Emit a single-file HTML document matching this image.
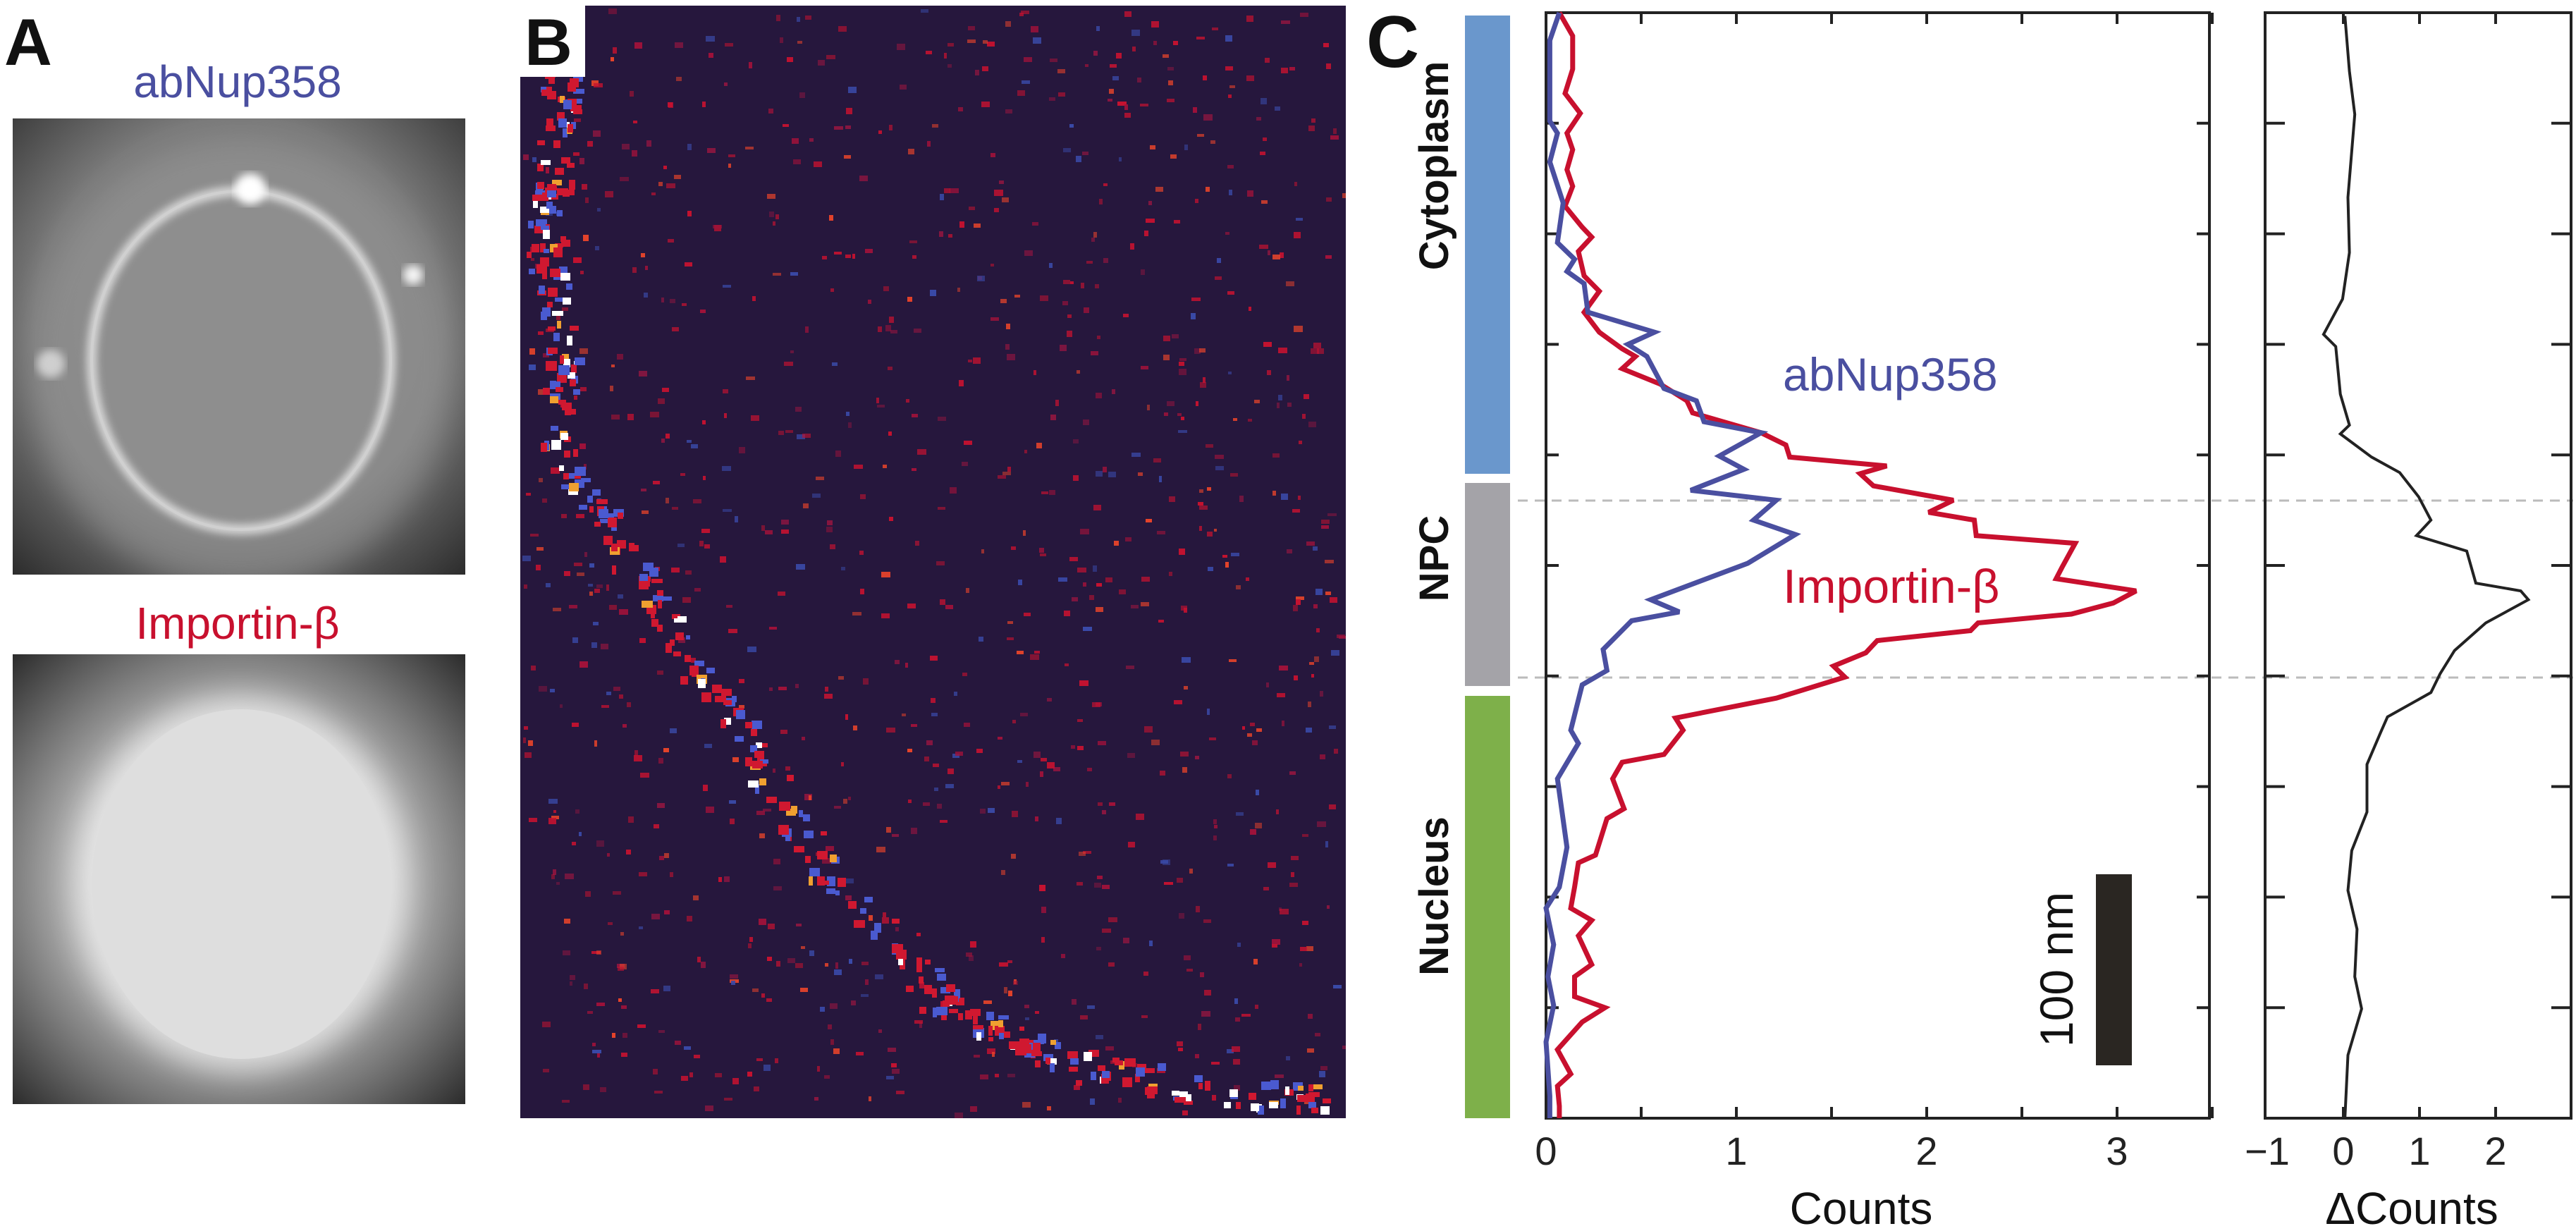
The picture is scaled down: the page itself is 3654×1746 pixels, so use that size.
<!DOCTYPE html>
<html><head><meta charset="utf-8"><style>
html,body{margin:0;padding:0;background:#fff;}
svg{display:block;font-family:"Liberation Sans",sans-serif;}
</style></head><body>
<svg id="fig" width="3654" height="1746" viewBox="0 0 3654 1746" xmlns="http://www.w3.org/2000/svg">
<defs>
  <radialGradient id="bgA" cx="0.5" cy="0.45" r="0.75">
    <stop offset="0" stop-color="#8c8c8c"/><stop offset="0.6" stop-color="#7a7a7a"/><stop offset="1" stop-color="#2a2a2a"/>
  </radialGradient>
  <radialGradient id="bgB" cx="0.5" cy="0.5" r="0.72">
    <stop offset="0" stop-color="#dcdcdc"/><stop offset="0.45" stop-color="#c8c8c8"/><stop offset="0.65" stop-color="#8a8a8a"/><stop offset="1" stop-color="#262626"/>
  </radialGradient>
  <filter id="blur6"><feGaussianBlur stdDeviation="6"/></filter>
  <filter id="blur20"><feGaussianBlur stdDeviation="20"/></filter>
  <clipPath id="clipA1"><rect x="18" y="168" width="642" height="647"/></clipPath>
  <clipPath id="clipA2"><rect x="18" y="928" width="642" height="638"/></clipPath>
  <clipPath id="clipB"><rect x="738" y="8" width="1171" height="1578"/></clipPath>
</defs>

<!-- Panel A -->
<g>
  <text x="6" y="92" font-size="94" font-weight="bold" fill="#111">A</text>
  <text x="337" y="138" font-size="64" fill="#4a4fa0" text-anchor="middle">abNup358</text>
  <g clip-path="url(#clipA1)">
    <rect x="18" y="168" width="642" height="647" fill="url(#bgA)"/>
    <ellipse cx="342" cy="515" rx="300" ry="320" fill="#9a9a9a" opacity="0.5" filter="url(#blur20)"/>
    <ellipse cx="342" cy="511" rx="212" ry="240" fill="#8e8e8e"/>
    <ellipse cx="342" cy="511" rx="212" ry="240" fill="none" stroke="#e6e6e6" stroke-width="12" filter="url(#blur6)"/>
    <ellipse cx="342" cy="511" rx="212" ry="240" fill="none" stroke="#d0d0d0" stroke-width="4"/>
    <circle cx="355" cy="268" r="22" fill="#fff" filter="url(#blur6)"/>
    <circle cx="586" cy="390" r="14" fill="#f4f4f4" filter="url(#blur6)"/>
    <circle cx="72" cy="516" r="20" fill="#cfcfcf" filter="url(#blur6)"/>
  </g>
  <text x="337" y="906" font-size="64" fill="#c8102e" text-anchor="middle">Importin-β</text>
  <g clip-path="url(#clipA2)">
    <rect x="18" y="928" width="642" height="638" fill="url(#bgB)"/>
    <ellipse cx="342" cy="1254" rx="235" ry="265" fill="#f0f0f0" opacity="0.7" filter="url(#blur20)"/>
    <ellipse cx="342" cy="1254" rx="212" ry="248" fill="#dedede"/>
  </g>
</g>

<!-- Panel B -->
<g>
  <rect x="738" y="8" width="1171" height="1578" fill="#26173d"/>
  <g id="speckles" clip-path="url(#clipB)"></g>
  <rect x="738" y="0" width="92" height="109" fill="#fff"/>
  <text x="744" y="92" font-size="94" font-weight="bold" fill="#111">B</text>
</g>

<!-- Panel C -->
<g>
  <text x="1938" y="95" font-size="104" font-weight="bold" fill="#111">C</text>
  <rect x="2078" y="22" width="64" height="650" fill="#6a97cc"/>
  <rect x="2078" y="685" width="64" height="288" fill="#a4a3a8"/>
  <rect x="2078" y="987" width="64" height="599" fill="#7eb04a"/>
  <text transform="translate(2054,235) rotate(-90)" font-size="58" font-weight="bold" fill="#111" text-anchor="middle">Cytoplasm</text>
  <text transform="translate(2054,792) rotate(-90)" font-size="58" font-weight="bold" fill="#111" text-anchor="middle">NPC</text>
  <text transform="translate(2054,1271) rotate(-90)" font-size="58" font-weight="bold" fill="#111" text-anchor="middle">Nucleus</text>

  <line x1="2153" y1="710" x2="3650" y2="710" stroke="#bbb" stroke-width="3" stroke-dasharray="14,10"/>
  <line x1="2153" y1="961" x2="3650" y2="961" stroke="#bbb" stroke-width="3" stroke-dasharray="14,10"/>

  <g id="mainPlot"></g>
  <g id="deltaPlot"></g>

  <text x="2529" y="855" font-size="68" fill="#c8102e">Importin-β</text>
  <text x="2529" y="554" font-size="66" fill="#4a4fa0">abNup358</text>

  <rect x="2973" y="1240" width="51" height="271" fill="#2a2622"/>
  <text transform="translate(2940,1375) rotate(-90)" font-size="66" fill="#111" text-anchor="middle">100 nm</text>

  <text x="2640" y="1736" font-size="64" fill="#111" text-anchor="middle">Counts</text>
  <text x="3421" y="1736" font-size="64" fill="#111" text-anchor="middle">ΔCounts</text>
</g>
</svg>
<script>
// ---- chart data (position along profile d: 0 = top, 100 = bottom) ----
var redD = [0,2.1,5.1,7.3,9.1,10.9,12.4,14.2,15.7,17.5,19.4,20.3,21.6,23.8,25.2,27.1,28.9,30.4,31.1,32.2,33.6,35.1,36.2,38.0,39.1,40.2,41.0,41.7,42.8,44.1,45.2,45.9,47.3,48.0,50.2,51.2,52.3,53.4,54.4,55.2,55.9,56.8,57.9,59.1,60.1,62.0,63.8,64.9,67.1,67.8,69.3,72.0,72.9,76.2,76.9,79.1,81.0,82.1,83.5,86.1,87.2,89.0,90.0,91.3,93.8,96.0,97.1,98.9,100];
var redC = [0.07,0.14,0.14,0.10,0.18,0.11,0.14,0.11,0.14,0.10,0.19,0.24,0.17,0.20,0.28,0.20,0.28,0.40,0.47,0.40,0.60,0.74,0.77,1.13,1.26,1.28,1.79,1.65,1.72,2.14,2.01,2.25,2.26,2.78,2.71,2.68,3.10,2.98,2.76,2.27,2.23,1.74,1.68,1.51,1.57,1.21,0.68,0.72,0.62,0.40,0.35,0.41,0.32,0.26,0.17,0.15,0.13,0.24,0.17,0.24,0.15,0.15,0.31,0.19,0.06,0.13,0.06,0.07,0.07];
var blueD = [0,2.5,9.8,10.9,13.5,17.2,20.8,22.3,23.4,24.5,27.1,28.9,30.0,31.1,34.0,35.1,37.0,38.0,40.1,41.3,43.2,44.1,45.9,47.2,49.8,53.1,54.2,55.0,57.6,59.5,60.8,64.9,66.1,69.3,75.5,79.1,81.0,84.3,87.2,89.8,93.1,98.0,100];
var blueC = [0.07,0.02,0.02,0.06,0.02,0.09,0.06,0.15,0.11,0.20,0.22,0.57,0.43,0.53,0.62,0.79,0.83,1.13,0.91,1.04,0.76,1.21,1.09,1.31,1.06,0.55,0.70,0.45,0.30,0.32,0.19,0.13,0.17,0.06,0.11,0.07,0.00,0.04,0.01,0.04,0.00,0.02,0.02];
var deltaD = [0.3,5.3,9.2,16.7,21.7,25.9,29.1,30.2,34.5,37.3,38.1,40.2,41.6,43.8,45.9,47.3,48.7,51.6,52.3,53.1,55.2,57.7,59.8,61.5,63.7,65.1,68.0,72.3,75.8,79.4,82.9,87.2,90.1,94.3,100];
var deltaC = [0.02,0.08,0.15,0.06,0.08,-0.01,-0.26,-0.10,-0.04,0.08,-0.04,0.37,0.74,0.99,1.15,0.96,1.62,1.74,2.33,2.43,1.87,1.46,1.27,1.15,0.58,0.49,0.31,0.31,0.11,0.06,0.18,0.15,0.24,0.06,0.02];
var countTicks = [0,0.5,1,1.5,2,2.5,3,3.5];
var countTickLabels = ["0","1","2","3"];
var countLabelValues = [0,1,2,3];
var deltaTicks = [0,1,2];
var deltaTickLabels = ["−1","0","1","2"];
var deltaLabelValues = [-1,0,1,2];
var posTicks = [10,20,30,40,50,60,70,80,90];

var NS = "http://www.w3.org/2000/svg";
var TOP = 18, BOT = 1586;
function yPos(d){ return TOP + d * (BOT - TOP) / 100; }
function xCount(c){ return 2193 + c * 270; }
function xDelta(c){ return 3324 + c * 108; }
function mk(tag, attrs, parent){ var e = document.createElementNS(NS, tag); for (var k in attrs) e.setAttribute(k, attrs[k]); parent.appendChild(e); return e; }

function drawAxes(g, x0, x1, xs, ticks, labelVals, labels, tickLen, prefix){
  var box = mk('rect', {x:x0, y:TOP, width:x1-x0, height:BOT-TOP, fill:'none', stroke:'#222', 'stroke-width':4}, g);
  
  
  ticks.forEach(function(t){
    var x = xs(t);
    var a = mk('line', {x1:x, y1:BOT, x2:x, y2:BOT-16, stroke:'#222', 'stroke-width':4}, g);
    
    
    var b = mk('line', {x1:x, y1:TOP, x2:x, y2:TOP+16, stroke:'#222', 'stroke-width':4}, g);
    
    
  });
  posTicks.forEach(function(d){
    var y = yPos(d);
    var a = mk('line', {x1:x0, y1:y, x2:x0+tickLen, y2:y, stroke:'#222', 'stroke-width':4}, g);
    
    
    var b = mk('line', {x1:x1, y1:y, x2:x1-tickLen, y2:y, stroke:'#222', 'stroke-width':4}, g);
    
    
  });
  labelVals.forEach(function(v, i){
    var t = mk('text', {x:xs(v), y:1652, 'font-size':56, fill:'#222', 'text-anchor':'middle'}, g);
    t.textContent = labels[i];
    
    
  });
}
function drawLine(g, ds, cs, xs, color, w, name){
  var pts = ds.map(function(d, i){ return xs(cs[i]).toFixed(1) + ',' + yPos(d).toFixed(1); }).join(' ');
  var p = mk('polyline', {points:pts, fill:'none', stroke:color, 'stroke-width':w, 'stroke-linejoin':'miter', 'stroke-miterlimit':3}, g);
  
  
}
var mp = document.getElementById('mainPlot');
drawAxes(mp, 2193, 3134, xCount, countTicks, countLabelValues, countTickLabels, 18, 'counts');
drawLine(mp, redD, redC, xCount, '#c8102e', 7, 'importin-line');
drawLine(mp, blueD, blueC, xCount, '#4a4fa0', 7, 'abnup358-line');
var dp = document.getElementById('deltaPlot');
drawAxes(dp, 3213, 3647, xDelta, deltaTicks, deltaLabelValues, deltaTickLabels, 28, 'delta');
drawLine(dp, deltaD, deltaC, xDelta, '#222', 4, 'delta-counts-line');

// ---- decorative speckles for the super-resolution image (panel B) ----
var sg = document.getElementById('speckles');
var seed = 12345;
function rnd(){ seed = (seed * 1103515245 + 12345) % 2147483648; return seed / 2147483648; }
var cols = ['#c41230','#c41230','#c41230','#a0123a','#8a1640','#3a4aa8','#e8442a'];
for (var i = 0; i < 1000; i++){
  var x = 740 + rnd() * 1165, y = 10 + rnd() * 1572;
  var r = mk('rect', {x:x.toFixed(0), y:y.toFixed(0), width:(4 + rnd()*9).toFixed(0), height:(4 + rnd()*5).toFixed(0), fill:cols[Math.floor(rnd()*cols.length)], opacity:(0.5 + rnd()*0.5).toFixed(2)}, sg);
  
  
}
var arc = [[792,20],[790,120],[781,270],[769,356],[792,505],[786,626],[867,763],[960,900],[1060,1060],[1166,1229],[1332,1413],[1421,1464],[1530,1508],[1700,1545],[1905,1560]];
for (var k = 0; k < arc.length - 1; k++){
  for (var j = 0; j < 30; j++){
    var t = rnd();
    var ax = arc[k][0] + (arc[k+1][0]-arc[k][0]) * t + (rnd()-0.5) * 50;
    var ay = arc[k][1] + (arc[k+1][1]-arc[k][1]) * t + (rnd()-0.5) * 40;
    var c = rnd() < 0.1 ? '#ffffff' : (rnd() < 0.3 ? '#4a5ad0' : (rnd() < 0.15 ? '#f0a030' : '#d01830'));
    var q = mk('rect', {x:ax.toFixed(0), y:ay.toFixed(0), width:(6 + rnd()*10).toFixed(0), height:(6 + rnd()*8).toFixed(0), fill:c}, sg);
    
    
  }
}
</script>
</body></html>
